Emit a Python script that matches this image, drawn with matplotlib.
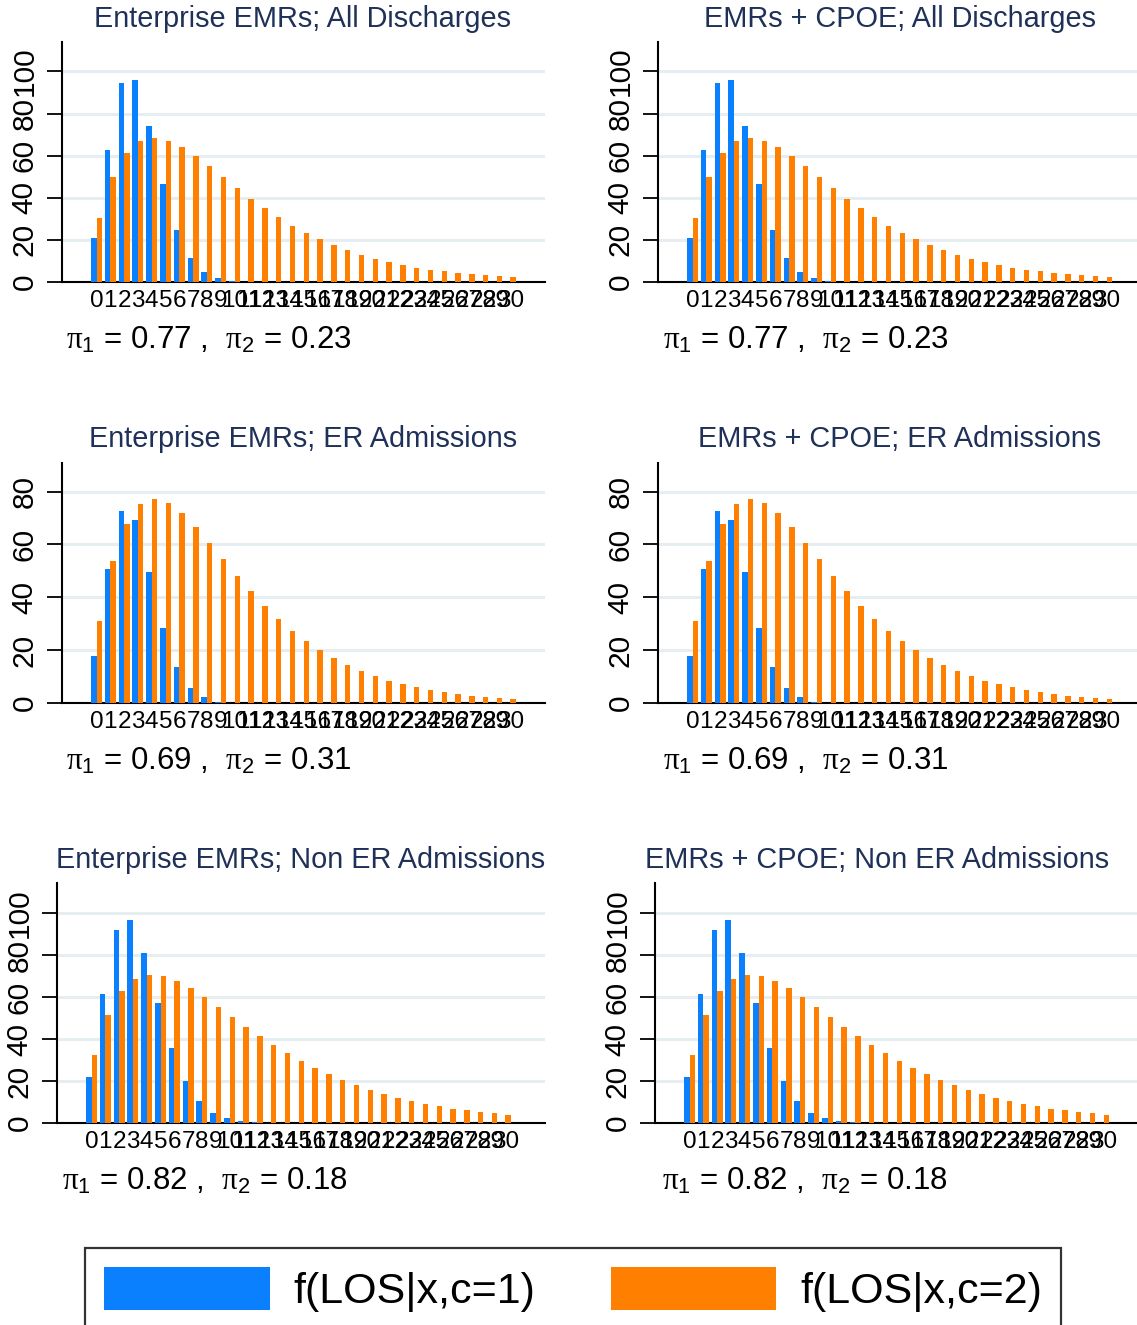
import matplotlib
matplotlib.use("Agg")
import matplotlib.pyplot as plt
import numpy as np
from matplotlib.patches import Patch

plt.rcParams["font.family"] = ["Liberation Sans", "DejaVu Sans"]
plt.rcParams["mathtext.fontset"] = "custom"
plt.rcParams["mathtext.rm"] = "Liberation Sans"
plt.rcParams["mathtext.it"] = "Liberation Serif"

los = np.arange(31)

# f(LOS|x,c) estimates (EMR and CPOE panels are the same)
all_c1 = [21.1, 62.5, 94.3, 95.9, 74.3, 46.5, 24.8, 11.5, 4.7, 1.9, 0.6, 0.2,
          0.1, 0, 0, 0, 0, 0, 0, 0, 0, 0, 0, 0, 0, 0, 0, 0, 0, 0, 0]
all_c2 = [30.3, 49.8, 61.4, 66.9, 68.6, 67.2, 64.0, 59.8, 54.9, 49.7, 44.5, 39.6,
          35.0, 30.8, 26.8, 23.4, 20.2, 17.5, 15.1, 12.9, 11.0, 9.5, 8.0, 6.8,
          5.9, 5.0, 4.3, 3.7, 3.2, 2.8, 2.3]
er_c1 = [17.7, 50.6, 72.6, 69.4, 49.7, 28.5, 13.6, 5.7, 2.1, 0.5, 0.1,
         0, 0, 0, 0, 0, 0, 0, 0, 0, 0, 0, 0, 0, 0, 0, 0, 0, 0, 0, 0]
er_c2 = [31.2, 53.9, 67.9, 75.1, 77.1, 75.7, 71.8, 66.5, 60.6, 54.3, 48.2, 42.3,
         36.8, 31.9, 27.4, 23.5, 20.1, 17.0, 14.4, 12.1, 10.1, 8.5, 7.1, 5.9,
         4.9, 4.0, 3.4, 2.7, 2.3, 1.9, 1.6]
ner_c1 = [22.1, 61.7, 92.0, 97.0, 81.2, 57.4, 35.6, 20.0, 10.3, 4.9, 2.2, 0.8,
          0.3, 0.1, 0.1, 0, 0, 0, 0, 0, 0, 0, 0, 0, 0, 0, 0, 0, 0, 0, 0]
ner_c2 = [32.5, 51.7, 62.9, 68.8, 70.7, 70.0, 67.7, 64.2, 59.9, 55.4, 50.6, 45.9,
          41.5, 37.2, 33.3, 29.7, 26.2, 23.2, 20.5, 18.0, 15.8, 13.9, 12.0, 10.6,
          9.1, 8.0, 6.9, 6.0, 5.2, 4.6, 3.9]

titles = ["Enterprise EMRs; All Discharges", "EMRs + CPOE; All Discharges",
          "Enterprise EMRs; ER Admissions", "EMRs + CPOE; ER Admissions",
          "Enterprise EMRs; Non ER Admissions", "EMRs + CPOE; Non ER Admissions"]
pi1 = ["0.77", "0.77", "0.69", "0.69", "0.82", "0.82"]
pi2 = ["0.23", "0.23", "0.31", "0.31", "0.18", "0.18"]
series = [(all_c1, all_c2), (all_c1, all_c2), (er_c1, er_c2), (er_c1, er_c2),
          (ner_c1, ner_c2), (ner_c1, ner_c2)]
ytop = [114, 114, 90.8, 90.8, 114.5, 114.5]
yticks = [np.arange(0, 101, 20), np.arange(0, 101, 20), np.arange(0, 81, 20),
          np.arange(0, 81, 20), np.arange(0, 101, 20), np.arange(0, 101, 20)]

BLUE = "#0a80ff"
ORANGE = "#ff8000"
TITLE_C = "#1f3158"
GRID_C = "#e6eef1"

W, H = 1137, 1325
fig = plt.figure(figsize=(W / 100, H / 100), dpi=100)

# pixel layout: left, top, right, bottom of each plot region
boxes = [(62, 42, 545, 282), (658, 42, 1141, 282),
         (62, 463, 545, 703), (658, 463, 1141, 703),
         (57, 883, 545, 1123), (655, 883, 1141, 1123)]
title_xy = [(303, 19), (900, 19), (303, 439), (900, 439), (301, 860), (877, 860)]
pi_xy = [(66, 340), (663, 340), (66, 761), (663, 761), (62, 1181), (662, 1181)]
spacing = 13.8  # px per LOS category

for i, (l, t, r, b) in enumerate(boxes):
    ax = fig.add_axes([l / W, 1 - b / H, (r - l) / W, (b - t) / H])
    c1, c2 = series[i]
    ax.bar(los - 0.2, c1, width=0.4, color=BLUE, zorder=3)
    ax.bar(los + 0.2, c2, width=0.4, color=ORANGE, zorder=3)
    off = 34.5 / spacing
    ax.set_xlim(-off, (r - l) / spacing - off)
    ax.set_ylim(0, ytop[i])
    ax.set_yticks(yticks[i])
    ax.set_yticklabels([str(v) for v in yticks[i]], rotation=90, va="center",
                       fontsize=21.5)
    ax.set_xticks(los)
    ax.set_xticklabels([str(v) for v in los], fontsize=17.5)
    ax.tick_params(axis="x", length=0, pad=6)
    ax.tick_params(axis="y", length=11, width=1.3, pad=6)
    ax.grid(axis="y", color=GRID_C, linewidth=2.2, zorder=0)
    for s in ("top", "right"):
        ax.spines[s].set_visible(False)
    for s in ("left", "bottom"):
        ax.spines[s].set_linewidth(1.5)
        ax.spines[s].set_clip_on(False)
    tx, ty = title_xy[i]
    fig.text(tx / W, 1 - ty / H, titles[i], ha="center", va="center",
             fontsize=20.8, color=TITLE_C)
    px, py = pi_xy[i]
    fig.text(px / W, 1 - py / H,
             r"$\pi_1$ = " + pi1[i] + r" ,  $\pi_2$ = " + pi2[i],
             ha="left", va="center", fontsize=22.5)

handles = [Patch(facecolor=BLUE), Patch(facecolor=ORANGE)]
leg = fig.legend(handles, ["f(LOS|x,c=1)", "f(LOS|x,c=2)"], ncol=2,
                 loc="upper center", bbox_to_anchor=(573 / W, 1 - 1248 / H),
                 fontsize=31, frameon=True, fancybox=False, edgecolor="black",
                 handlelength=3.85, handleheight=1.15, handletextpad=0.55,
                 columnspacing=1.75, borderpad=0.45, borderaxespad=0)
leg.get_frame().set_linewidth(1.6)

fig.savefig("out.png", dpi=100)
